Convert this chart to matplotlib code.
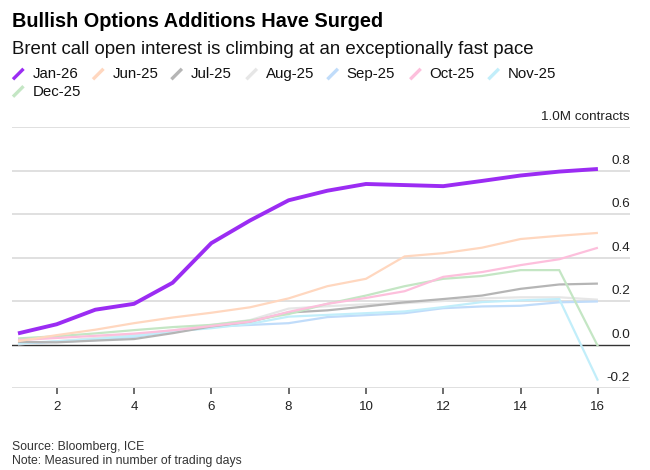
import matplotlib
matplotlib.use("Agg")
import matplotlib.pyplot as plt
from matplotlib.lines import Line2D

plt.rcParams['font.family'] = ['Liberation Sans', 'DejaVu Sans']

days = list(range(1, 17))
series_names = ["Jan-26", "Jun-25", "Jul-25", "Aug-25", "Sep-25", "Oct-25", "Nov-25", "Dec-25"]
jan26 = [0.051, 0.093, 0.160, 0.187, 0.284, 0.466, 0.570, 0.663, 0.707, 0.738, 0.733, 0.728, 0.752, 0.777, 0.795, 0.807]
jun25 = [0.015, 0.043, 0.068, 0.098, 0.124, 0.146, 0.171, 0.212, 0.268, 0.302, 0.405, 0.420, 0.445, 0.485, 0.500, 0.513]
jul25 = [0.012, 0.010, 0.018, 0.025, 0.052, 0.083, 0.105, 0.147, 0.157, 0.175, 0.194, 0.209, 0.225, 0.256, 0.276, 0.280]
aug25 = [0.000, 0.015, 0.030, 0.045, 0.065, 0.090, 0.112, 0.165, 0.176, 0.185, 0.190, 0.200, 0.212, 0.217, 0.217, 0.206]
sep25 = [0.005, 0.012, 0.020, 0.035, 0.060, 0.082, 0.090, 0.098, 0.126, 0.135, 0.144, 0.167, 0.175, 0.178, 0.194, 0.198]
oct25 = [0.020, 0.030, 0.040, 0.050, 0.065, 0.085, 0.105, 0.150, 0.187, 0.214, 0.245, 0.311, 0.333, 0.365, 0.392, 0.445]
nov25 = [0.005, 0.015, 0.025, 0.040, 0.060, 0.075, 0.095, 0.128, 0.136, 0.144, 0.152, 0.172, 0.195, 0.203, 0.209, -0.166]
dec25 = [0.028, 0.038, 0.051, 0.066, 0.080, 0.090, 0.110, 0.140, 0.187, 0.225, 0.268, 0.302, 0.315, 0.342, 0.342, -0.008]
values = [jan26, jun25, jul25, aug25, sep25, oct25, nov25, dec25]
colors = ["#9B2CF3", "#FFD7BF", "#B5B5B5", "#E6E6E6", "#C0DCFA", "#FDBFDC", "#C2EEFA", "#C4E6C4"]
y_ticks = [-0.2, 0.0, 0.2, 0.4, 0.6, 0.8, 1.0]
y_tick_labels = ["-0.2", "0.0", "0.2", "0.4", "0.6", "0.8", "1.0M contracts"]
x_ticks = [2, 4, 6, 8, 10, 12, 14, 16]

W, H = 650, 470
fig = plt.figure(figsize=(W / 100, H / 100), dpi=100)
ax = fig.add_axes([12 / W, 1 - 388 / H, (630 - 12) / W, (388 - 127) / H])

def fy(py):
    return 1 - py / H

# gridlines
for yv in y_ticks:
    if yv == 0.0:
        ax.axhline(yv, color="#333333", lw=1.0, zorder=3)
    else:
        ax.axhline(yv, color="#DDDDDD", lw=1.3, zorder=1)

# lines: purple on top
order = [3, 4, 6, 2, 7, 5, 1, 0]
for i in order:
    lw = 2.8 if i == 0 else 1.6
    ax.plot(days, values[i], color=colors[i], lw=lw, zorder=5 if i == 0 else 4,
            solid_capstyle="butt", solid_joinstyle="miter")

ax.set_xlim(0.845, 16.83)
ax.set_ylim(-0.2, 1.0)
for s in ax.spines.values():
    s.set_visible(False)
ax.set_yticks([])
ax.set_xticks(x_ticks)
ax.set_xticklabels([str(t) for t in x_ticks])
ax.tick_params(axis="x", length=4.3, width=1.1, color="#444444", pad=5.3,
               labelsize=9.6, labelcolor="#222222")

# right-side tick labels above gridlines
for yv, lab in zip(y_ticks, y_tick_labels):
    ax.annotate(lab, xy=(1.0, yv), xycoords=("axes fraction", "data"),
                xytext=(0, 5.0), textcoords="offset points",
                ha="right", va="baseline", fontsize=9.7, color="#222222")

# title & subtitle
fig.text(12.5 / W, fy(26.7), "Bullish Options Additions Have Surged", fontsize=14.3,
         fontweight="bold", color="#000000", va="baseline", ha="left")
fig.text(12.5 / W, fy(54), "Brent call open interest is climbing at an exceptionally fast pace",
         fontsize=13.4, color="#111111", va="baseline", ha="left")

# legend
leg_text_x = [32.3, 112.3, 190.7, 265.7, 346.7, 429.5, 507.7, 32.3]
leg_base_y = [78.3] * 7 + [95.7]
for tx, by, name, c, i in zip(leg_text_x, leg_base_y, series_names, colors, range(8)):
    x0 = tx - 19.3
    fig.add_artist(Line2D([x0 / W, (x0 + 10.5) / W], [fy(by + 1), fy(by - 9.5)],
                          color=c, lw=2.4, transform=fig.transFigure,
                          solid_capstyle="butt"))
    fig.text(tx / W, fy(by), name, fontsize=10.8, color="#111111",
             va="baseline", ha="left")

# footer
fig.text(12.5 / W, fy(450), "Source: Bloomberg, ICE", fontsize=8.8, color="#333333",
         va="baseline", ha="left")
fig.text(12.5 / W, fy(464), "Note: Measured in number of trading days", fontsize=8.8,
         color="#333333", va="baseline", ha="left")

fig.savefig("out.png", dpi=100)
